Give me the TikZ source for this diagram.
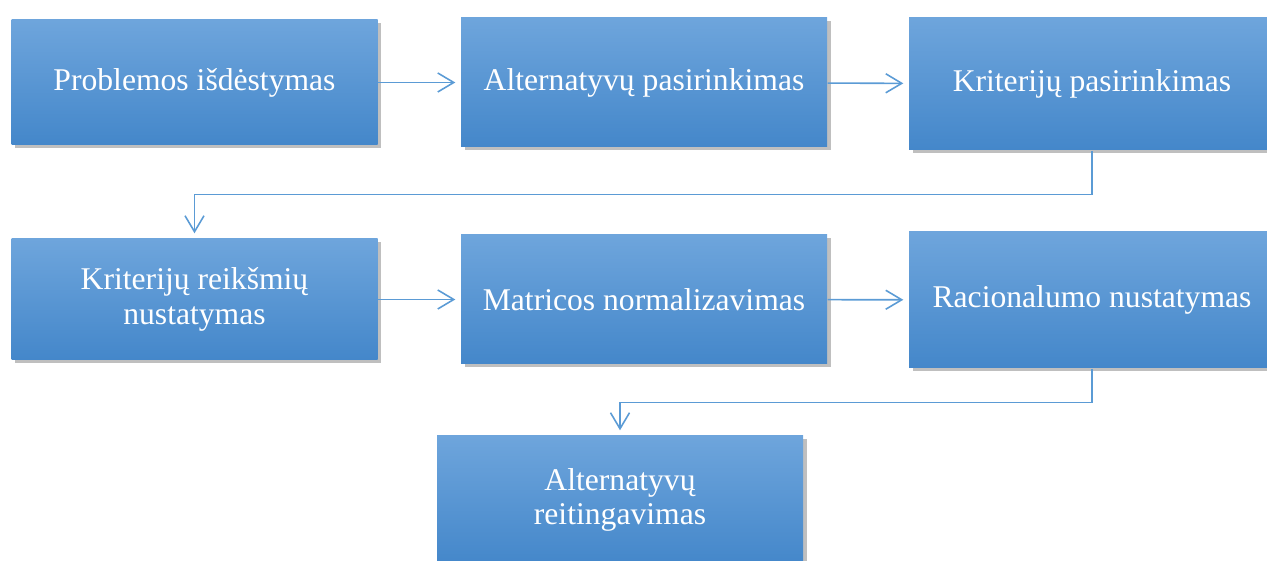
\documentclass[tikz,border=0pt]{standalone}
\usepackage{fontspec}
\setmainfont{Liberation Serif}
\usepackage{tikz}
\usetikzlibrary{arrows.meta,shadows,positioning}

\definecolor{BoxTop}{HTML}{6EA5DC}
\definecolor{BoxBottom}{HTML}{4487CA}
\definecolor{LineBlue}{HTML}{5B9BD5}

\begin{document}
\begin{tikzpicture}
			\tikzstyle{Box}		= [rectangle, top color=BoxTop, bottom color=BoxBottom, text=white, align=center, inner sep=0pt, font=\fontsize{9}{9.8}\selectfont, drop shadow={shadow xshift=0.035cm, shadow yshift=-0.035cm, opacity=0.25, fill=black}]
			\tikzstyle{Wide}	= [minimum width=3.66cm]
			\tikzstyle{Flow}	= [LineBlue, line width=0.45pt, -{Straight Barb[length=1.6mm, width=1.9mm]}, shorten >=0.05cm]

			\useasboundingbox (0,0) rectangle (12.67,-5.61);

			\node (b1) at (1.945,-0.825) [Box][Wide][minimum height=1.25cm] {Problemos išdėstymas};
			\node (b2) at (6.44,-0.825) [Box][Wide][minimum height=1.29cm] {Alternatyvų pasirinkimas};
			\node (b3) at (10.92,-0.84) [Box][Wide][minimum height=1.32cm] {Kriterijų pasirinkimas};
			\node (b4) at (1.945,-2.995) [Box][Wide][minimum height=1.21cm] {Kriterijų reikšmių\\nustatymas};
			\node (b5) at (6.44,-2.995) [Box][Wide][minimum height=1.29cm] {Matricos normalizavimas};
			\node (b6) at (10.92,-3.0) [Box][Wide][minimum height=1.36cm] {Racionalumo nustatymas};
			\node (b7) at (6.20,-5.0) [Box][Wide][minimum height=1.28cm] {Alternatyvų\\reitingavimas};

			\draw (b1) to (b2) [Flow];
			\draw (b2) to (b3) [Flow];
			\draw (b3.south) -- ++(0,-0.44) -| (b4.north) [Flow];
			\draw (b4) to (b5) [Flow];
			\draw (b5) to (b6) [Flow];
			\draw (b6.south) -- ++(0,-0.34) -| (b7.north) [Flow];
		\end{tikzpicture}
\end{document}
